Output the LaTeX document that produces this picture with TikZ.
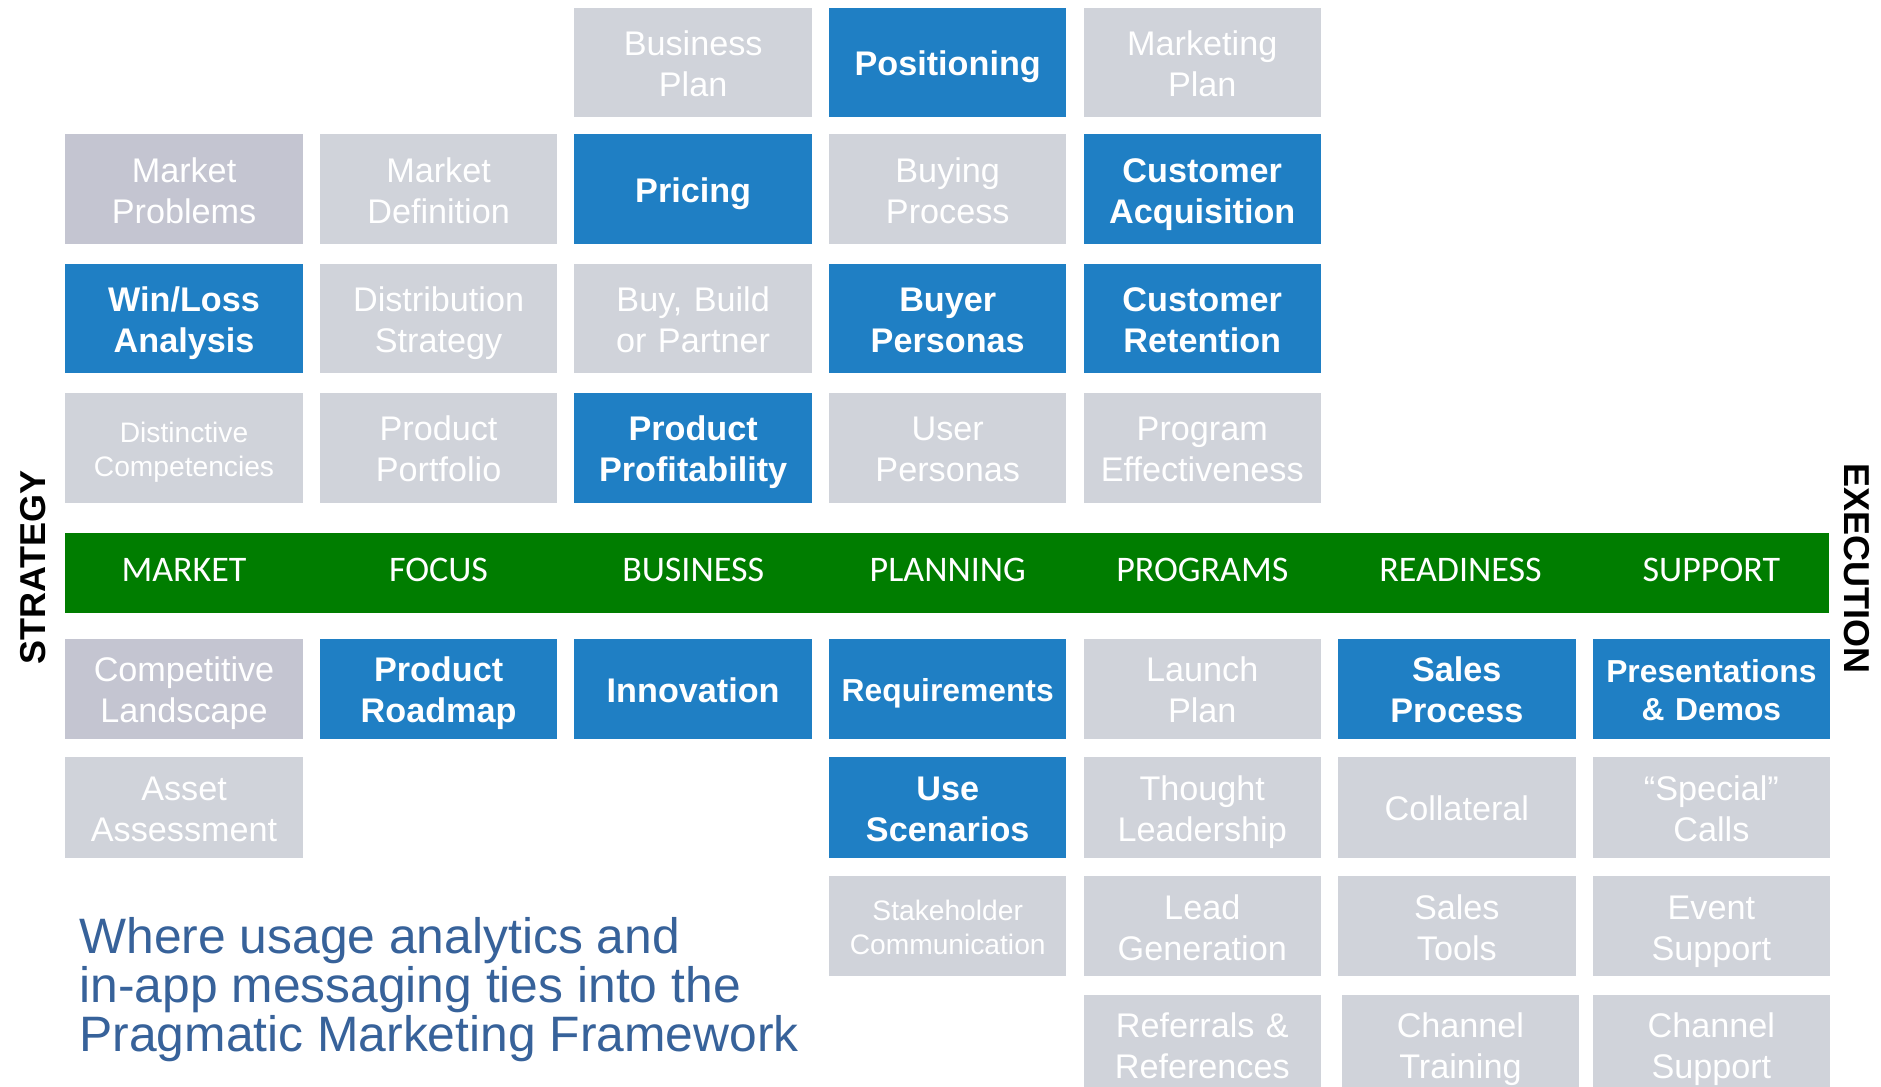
\documentclass[tikz,border=0pt]{standalone}
\usepackage{fontspec}
\setmainfont{Liberation Sans}
\newfontfamily\bandfont{Carlito}
\usetikzlibrary{positioning}
\definecolor{PMGray}{RGB}{208,211,218}
\definecolor{PMDarkGray}{RGB}{196,197,209}
\definecolor{PMBlue}{RGB}{31,127,196}
\definecolor{PMGreen}{RGB}{0,125,0}
\definecolor{PMTitle}{RGB}{55,98,154}
% keeps the capitals of every cell centred, whatever the descenders
\newcommand\cellstrut{\rule[-0.25em]{0pt}{1.286em}}

\begin{document}
\begin{tikzpicture}[
    x=1pt, y=-1pt,
    node distance=16pt and 13.8pt,
    cell/.style={rectangle, minimum width=198pt, minimum height=91.5pt, inner sep=0pt,
                 text width=198pt, align=center, text=white,
                 font=\fontsize{28.5}{34.2}\selectfont,
                 execute at begin node={\lineskiplimit=-\maxdimen\cellstrut},
                 execute at end node=\cellstrut},
    low/.style={cell, minimum height=83.8pt},
    graybox/.style={fill=PMGray},
    darkbox/.style={fill=PMDarkGray},
    bluebox/.style={fill=PMBlue, font=\bfseries\fontsize{28.5}{34.2}\selectfont},
    bluesmall/.style={fill=PMBlue, font=\bfseries\fontsize{26.5}{31.8}\selectfont},
    smalltxt/.style={font=\fontsize{23.5}{28.2}\selectfont},
    band/.style={rectangle, fill=PMGreen, minimum width=1470pt, minimum height=67pt, inner sep=0pt},
    bandlbl/.style={inner sep=0pt, yshift=2pt, text=white, font=\bandfont\fontsize{30}{30}\selectfont},
    sidelbl/.style={inner sep=0pt, text=black, font=\bfseries\fontsize{30}{30}\selectfont},
    title/.style={inner sep=0pt, align=left, text=PMTitle, font=\fontsize{41.5}{40.8}\selectfont}
]
\useasboundingbox (0,0) rectangle (1568,906);
\clip (0,0) rectangle (1568,906);

% strategy side
\node[cell, darkbox, anchor=north west] (mktprob) at (54.2,111.7) {Market\\Problems};
\node[cell, graybox, right=of mktprob]  (mktdef)   {Market\\Definition};
\node[cell, bluebox, right=of mktdef]   (pricing)  {Pricing};
\node[cell, graybox, right=of pricing]  (buying)   {Buying\\Process};
\node[cell, bluebox, right=of buying]   (custacq)  {Customer\\Acquisition};

\node[cell, graybox, above=13.7pt of pricing] (bizplan)  {Business\\Plan};
\node[cell, bluebox, above=13.7pt of buying]  (position) {Positioning};
\node[cell, graybox, above=13.7pt of custacq] (mktplan)  {Marketing\\Plan};

\node[cell, bluebox, below=of mktprob] (winloss)  {Win/Loss\\Analysis};
\node[cell, graybox, below=of mktdef]  (distrib)  {Distribution\\Strategy};
\node[cell, graybox, below=of pricing] (buybuild) {Buy, Build\\or Partner};
\node[cell, bluebox, below=of buying]  (buyerp)   {Buyer\\Personas};
\node[cell, bluebox, below=of custacq] (custret)  {Customer\\Retention};

\node[cell, graybox, smalltxt, below=of winloss] (distinct) {Distinctive\\Competencies};
\node[cell, graybox, below=of distrib]  (portfolio) {Product\\Portfolio};
\node[cell, bluebox, below=of buybuild] (profit)    {Product\\Profitability};
\node[cell, graybox, below=of buyerp]   (userp)     {User\\Personas};
\node[cell, graybox, below=of custret]  (progeff)   {Program\\Effectiveness};

\node[band, below=24.3pt of distinct.south west, anchor=north west] (axis) {};

% execution side
\node[low, darkbox, below=21pt of axis.south west, anchor=north west] (compland) {Competitive\\Landscape};
\node[low, bluebox, right=of compland] (roadmap)   {Product\\Roadmap};
\node[low, bluebox, right=of roadmap]  (innov)     {Innovation};
\node[low, bluesmall, right=of innov]  (reqs)      {Requirements};
\node[low, graybox, right=of reqs]     (launch)    {Launch\\Plan};
\node[low, bluebox, right=of launch]   (salesproc) {Sales\\Process};
\node[low, bluesmall, right=of salesproc] (presdemo) {Presentations\\\& Demos};

\node[low, graybox, below=14.7pt of compland]  (assess)  {Asset\\Assessment};
\node[low, bluebox, below=14.7pt of reqs]      (usescen) {Use\\Scenarios};
\node[low, graybox, below=14.7pt of launch]    (thought) {Thought\\Leadership};
\node[low, graybox, below=14.7pt of salesproc] (collat)  {Collateral};
\node[low, graybox, below=14.7pt of presdemo]  (special) {“Special”\\Calls};

\node[low, graybox, smalltxt, below=14.7pt of usescen] (stakeh) {Stakeholder\\Communication};
\node[low, graybox, below=14.7pt of thought] (leadgen)   {Lead\\Generation};
\node[low, graybox, below=14.7pt of collat]  (saletools) {Sales\\Tools};
\node[low, graybox, below=14.7pt of special] (event)     {Event\\Support};

\node[low, graybox, below=14.7pt of leadgen]   (referrals) {Referrals \&\\References};
\node[low, graybox, below=14.7pt of saletools, xshift=3pt] (chantrain) {Channel\\Training};
\node[low, graybox, below=14.7pt of event]     (chansup)   {Channel\\Support};

\node[bandlbl] (lmarket)   at (mktprob |- axis)   {MARKET};
\node[bandlbl] (lfocus)    at (mktdef |- axis)    {FOCUS};
\node[bandlbl] (lbusiness) at (pricing |- axis)   {BUSINESS};
\node[bandlbl] (lplanning) at (buying |- axis)    {PLANNING};
\node[bandlbl] (lprograms) at (custacq |- axis)   {PROGRAMS};
\node[bandlbl, xshift=3pt] (lreadiness) at (salesproc |- axis) {READINESS};
\node[bandlbl] (lsupport)  at (presdemo |- axis)  {SUPPORT};

\node[sidelbl, rotate=90]  (strategy)  at (28,473)   {STRATEGY};
\node[sidelbl, rotate=-90] (execution) at (1548,474) {EXECUTION};

\node[title, anchor=north west] (caption) at (66,764.5)
    {Where usage analytics and\\in-app messaging ties into the\\Pragmatic Marketing Framework};
\end{tikzpicture}
\end{document}
